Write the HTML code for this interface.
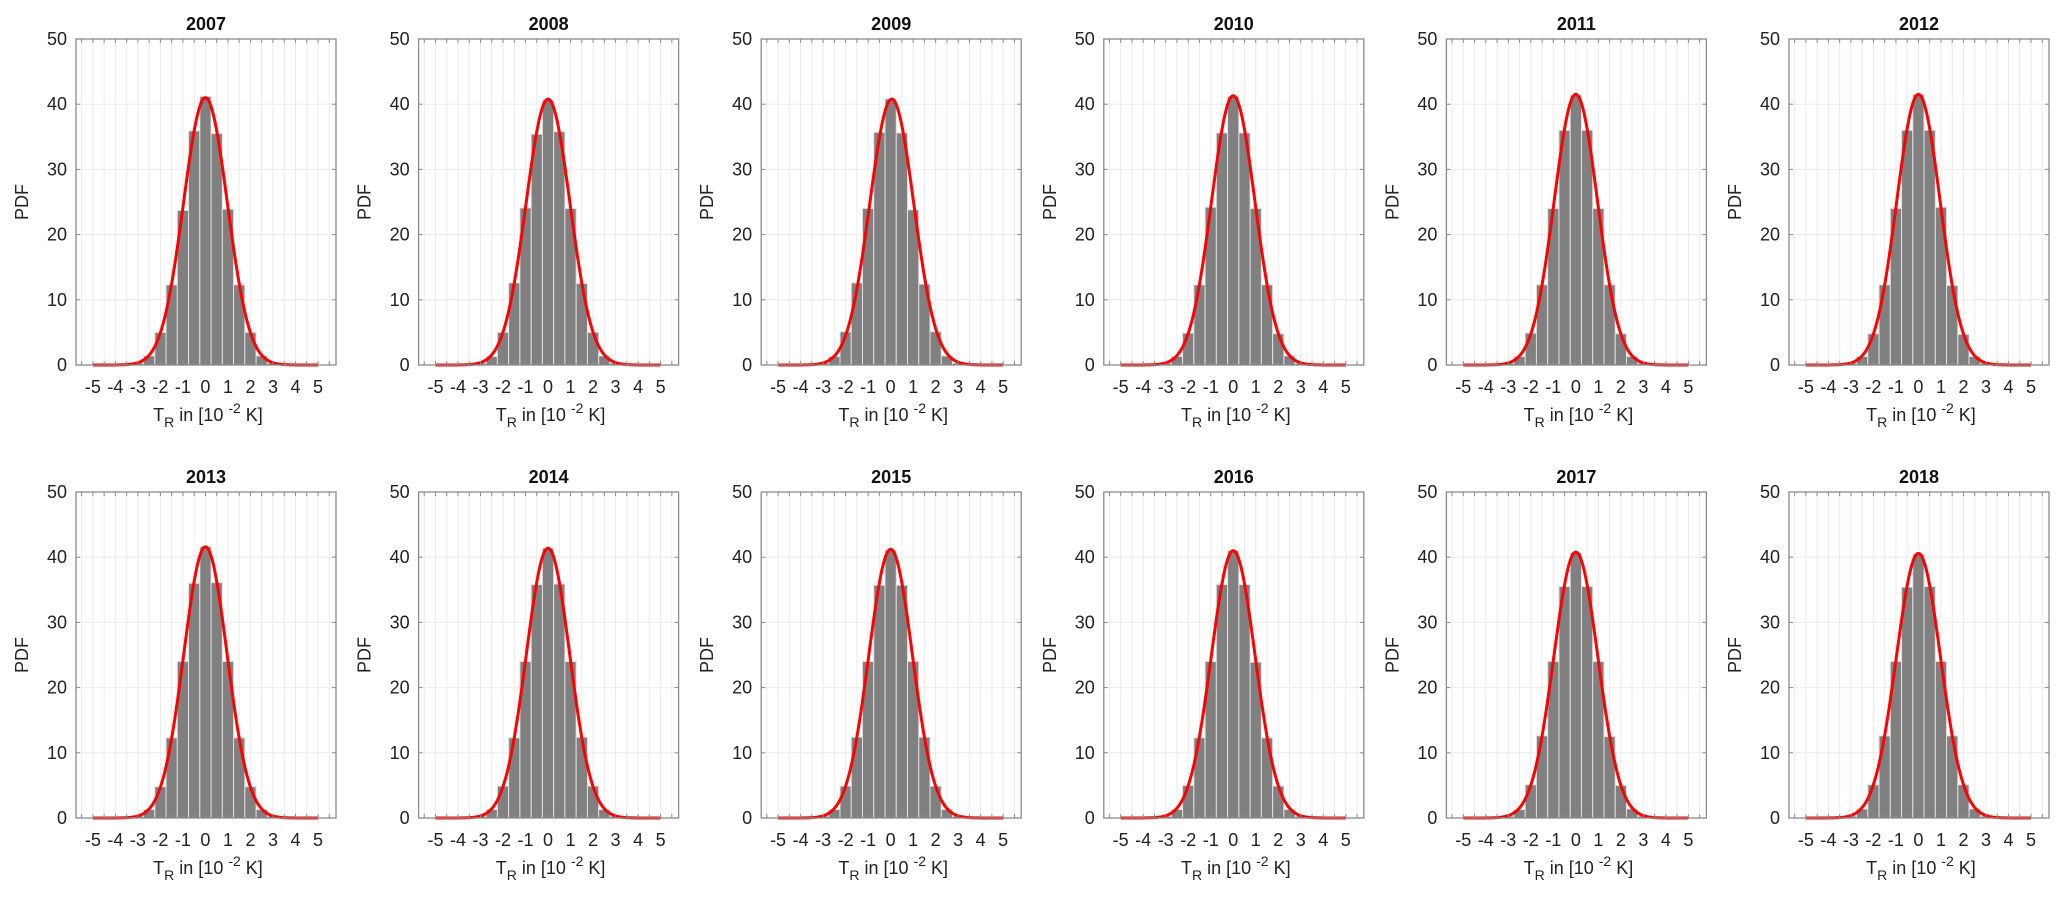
<!DOCTYPE html>
<html><head><meta charset="utf-8"><style>
html,body{margin:0;padding:0;background:#fff}
svg{display:block;font-family:"Liberation Sans",Arial,sans-serif}
</style></head><body>
<svg id="fig" width="2067" height="899" viewBox="0 0 2067 899" xmlns="http://www.w3.org/2000/svg"></svg>
<script>
const years = ["2007","2008","2009","2010","2011","2012","2013","2014","2015","2016","2017","2018"];
const binCenters = [-3,-2.5,-2,-1.5,-1,-0.5,0,0.5,1,1.5,2,2.5,3];
const binValues = [
 [0.3,1.4,5.0,12.3,23.7,35.9,41.2,35.5,23.9,12.3,5.0,1.4,0.3],
 [0.3,1.3,5.0,12.6,24.1,35.4,40.6,35.8,24.0,12.5,5.0,1.4,0.3],
 [0.3,1.3,5.1,12.6,24.0,35.7,40.8,35.6,23.8,12.4,5.1,1.4,0.3],
 [0.3,1.3,4.9,12.3,24.2,35.6,41.2,35.6,24.0,12.3,4.8,1.4,0.3],
 [0.3,1.3,4.9,12.3,24.0,36.0,41.4,36.0,24.0,12.3,4.8,1.3,0.3],
 [0.3,1.3,4.8,12.3,24.0,36.0,41.5,36.0,24.2,12.2,4.7,1.3,0.3],
 [0.3,1.3,4.8,12.3,24.0,36.0,41.6,36.1,24.0,12.3,4.8,1.3,0.3],
 [0.3,1.3,4.9,12.3,24.0,35.8,41.4,35.9,24.0,12.4,4.9,1.3,0.3],
 [0.3,1.3,4.9,12.4,24.0,35.7,41.1,35.7,24.0,12.4,4.9,1.3,0.3],
 [0.3,1.3,5.0,12.3,24.0,35.8,41.0,35.8,23.9,12.3,4.9,1.3,0.3],
 [0.3,1.3,5.1,12.6,24.0,35.5,40.7,35.5,24.0,12.5,5.0,1.4,0.3],
 [0.3,1.4,5.1,12.6,24.0,35.4,40.5,35.5,24.0,12.6,5.1,1.4,0.3]
];
const fitMean = [0.0,0.0,0.05,0.0,0.0,0.0,0.0,0.0,0.0,0.0,0.0,0.0];
const fitSigma = [0.973,0.978,0.978,0.966,0.961,0.961,0.959,0.964,0.968,0.973,0.978,0.983];
const xTicks = [-5,-4,-3,-2,-1,0,1,2,3,4,5];
const yTicks = [0,10,20,30,40,50];

const NS="http://www.w3.org/2000/svg";
const svg=document.getElementById('fig');
function mk(tag,attrs,parent){const e=document.createElementNS(NS,tag);for(const k in attrs)e.setAttribute(k,attrs[k]);(parent||svg).appendChild(e);return e;}

const PW=260, PH=326, colX0=76, colPitch=342.6, rowY0=39, rowPitch=453;
const XMIN=-5.75, XMAX=5.8, YMAX=50;

years.forEach((yr,i)=>{
  const c=i%6, r=Math.floor(i/6);
  const L=colX0+c*colPitch, T=rowY0+r*rowPitch, B=T+PH, R=L+PW;
  const sx=v=>L+(v-XMIN)/(XMAX-XMIN)*PW;
  const sy=v=>B-v/YMAX*PH;
  const g=mk('g',{});
  
  
  for(let v=-5.5; v<=5.51; v+=0.5){
    const gl=mk('line',{x1:sx(v),x2:sx(v),y1:T,y2:B,stroke:'#ebebeb','stroke-width':1},g);
    
    
  }
  yTicks.forEach(v=>{
    const gl=mk('line',{x1:L,x2:R,y1:sy(v),y2:sy(v),stroke:'#ebebeb','stroke-width':1},g);
    
    
  });
  const bw=0.5;
  binCenters.forEach((cx,j)=>{
    const v=binValues[i][j];
    const b=mk('rect',{x:sx(cx-bw/2),y:sy(v),width:sx(cx+bw/2)-sx(cx-bw/2),height:B-sy(v),fill:'#808080',stroke:'#e0e0e0','stroke-width':1},g);
    
    
  });
  let d='';
  for(let k=0;k<=200;k++){
    const x=-5+k*0.05, m=fitMean[i], s=fitSigma[i];
    const y=Math.exp(-0.5*((x-m)/s)**2)/(s*Math.sqrt(2*Math.PI))*100;
    d+=(k?'L':'M')+sx(x).toFixed(2)+' '+sy(y).toFixed(2);
  }
  const cur=mk('path',{d:d,fill:'none',stroke:'#ff0000','stroke-width':3,'stroke-linejoin':'round'},g);
  
  
  const box=mk('rect',{x:L,y:T,width:PW,height:PH,fill:'none',stroke:'#8a8a8a','stroke-width':1.3},g);
  
  
  for(let v=-5.5; v<=5.51; v+=0.5){
    mk('line',{x1:sx(v),x2:sx(v),y1:T,y2:T+4,stroke:'#8a8a8a','stroke-width':1},g);
    mk('line',{x1:sx(v),x2:sx(v),y1:B,y2:B-4,stroke:'#8a8a8a','stroke-width':1},g);
  }
  yTicks.forEach(v=>{
    mk('line',{x1:L,x2:L+4,y1:sy(v),y2:sy(v),stroke:'#8a8a8a','stroke-width':1},g);
    mk('line',{x1:R,x2:R-4,y1:sy(v),y2:sy(v),stroke:'#8a8a8a','stroke-width':1},g);
    const t=mk('text',{x:L-9,y:sy(v)+6,'font-size':18,'text-anchor':'end',fill:'#222'},g);
    t.textContent=v;
    
    
  });
  xTicks.forEach(v=>{
    const t=mk('text',{x:sx(v),y:B+28,'font-size':18,'text-anchor':'middle',fill:'#222'},g);
    t.textContent=v;
    
    
  });
  const ti=mk('text',{x:(L+R)/2,y:T-9,'font-size':18,'font-weight':'bold','text-anchor':'middle',fill:'#111'},g);
  ti.textContent=yr;
  
  
  const yl=mk('text',{x:0,y:0,'font-size':18,'text-anchor':'middle',fill:'#222',transform:`translate(${L-48},${(T+B)/2}) rotate(-90)`},g);
  yl.textContent='PDF';
  
  
  const xl=mk('text',{x:(L+R)/2+2,y:B+56,'font-size':18,'text-anchor':'middle',fill:'#222'},g);
  xl.innerHTML='T<tspan font-size="14" dy="6">R</tspan><tspan dy="-6"> in [10 </tspan><tspan font-size="14" dy="-8"> -2</tspan><tspan dy="8"> K]</tspan>';
  
  
});
</script>
</body></html>
